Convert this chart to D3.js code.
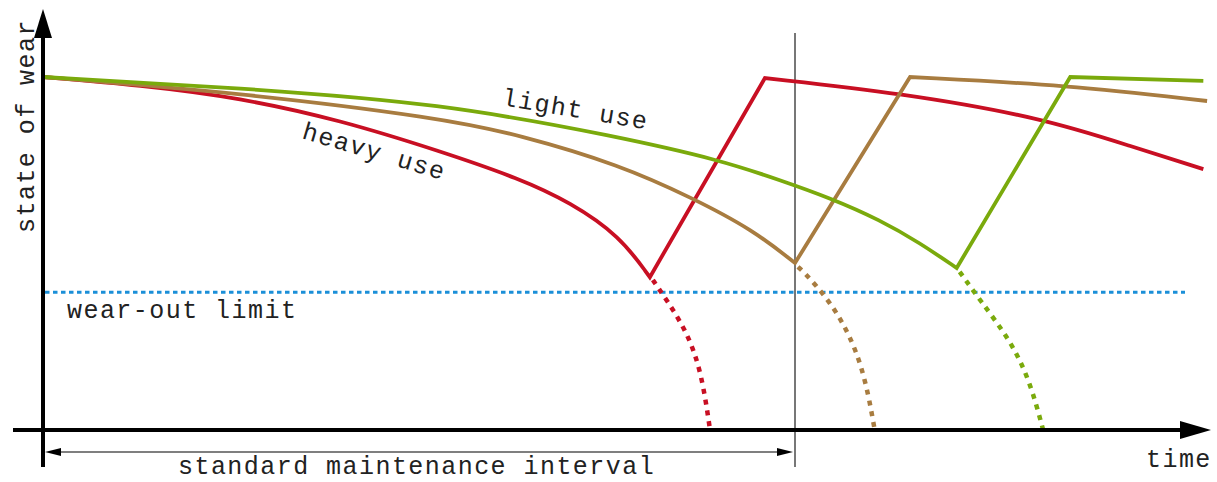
<!DOCTYPE html>
<html>
<head>
<meta charset="utf-8">
<script src="https://cdn.jsdelivr.net/npm/d3@7"></script>
<style>
  body { margin: 0; background: #fff; }
  text { font-family: "Liberation Mono", "Courier New", monospace; font-size: 25px; fill: #222; letter-spacing: 1.45px; }
</style>
</head>
<body>
<script>
// time in arbitrary units (standard maintenance interval = 10), wear as % of new condition
const INTERVAL = 10;
const WEAR_LIMIT = 39;

const heavyWear    = [[0,100],[1.29,97.7],[2.62,94.1],[3.95,87.8],[5.28,79],[6.34,71.2],[7.01,64.5],[7.67,55],[8.07,43.3]];
const heavyRenewed = [[9.6,99.7],[11.4,95.5],[13.3,88.4],[14.49,80.2],[15.43,73.9]];
const heavyFail    = [[8.11,42.5],[8.2,39.7],[8.56,28.3],[8.76,16.1],[8.87,0]];

const mediumWear    = [[0,100],[2.62,95.5],[5.28,88.4],[6.34,83.6],[7.67,75.1],[8.64,65.7],[9.44,56.7],[10,47.3]];
const mediumRenewed = [[11.53,100],[13.62,97.7],[15.48,93.2]];
const mediumFail    = [[10.04,46.2],[10.16,43.9],[10.56,34],[10.9,19],[11.06,0]];

const lightWear    = [[0,100],[2.62,96.9],[5.28,92.6],[7.67,83],[9,76.5],[9.8,70.8],[10.47,65.7],[11.13,59.5],[11.66,53],[12.15,45.9]];
const lightRenewed = [[13.66,100],[15.43,98.9]];
const lightFail    = [[12.19,44.8],[12.46,36.8],[12.86,25.5],[13.12,14.2],[13.3,0]];

const series = [
  { name: 'heavy',  color: '#c80f23', wear: heavyWear,  renewed: heavyRenewed,  fail: heavyFail },
  { name: 'medium', color: '#a87c40', wear: mediumWear, renewed: mediumRenewed, fail: mediumFail },
  { name: 'light',  color: '#7aaa0c', wear: lightWear,  renewed: lightRenewed,  fail: lightFail }
];

const W = 1217, H = 482;
const svg = d3.select('body').append('svg').attr('width', W).attr('height', H);

const x = d3.scaleLinear().domain([0, INTERVAL]).range([43, 795]);
const y = d3.scaleLinear().domain([0, 100]).range([430, 77]);

const curve = d3.line().x(d => x(d[0])).y(d => y(d[1])).curve(d3.curveBasis);

// wear-out limit
svg.append('line')
    .attr('x1', x(0) + 2).attr('x2', 1185)
    .attr('y1', y(WEAR_LIMIT)).attr('y2', y(WEAR_LIMIT))
    .attr('stroke', '#1b8fd8').attr('stroke-width', 3)
    .attr('stroke-dasharray', '4.5,3.5');

// standard interval marker
svg.append('line')
    .attr('x1', x(INTERVAL)).attr('x2', x(INTERVAL))
    .attr('y1', 33).attr('y2', 467)
    .attr('stroke', '#555').attr('stroke-width', 1.6);

// failure continuations (dotted)
svg.selectAll('path.fail')
  .data(series)
  .enter()
    .append('path')
      .attr('class', 'fail')
      .attr('d', d => curve(d.fail))
      .attr('fill', 'none')
      .attr('stroke', d => d.color)
      .attr('stroke-width', 4.5)
      .attr('stroke-dasharray', '5,6');

// wear curve, renewal ramp, second wear curve as one path
svg.selectAll('path.use')
  .data(series)
  .enter()
    .append('path')
      .attr('class', 'use')
      .attr('d', d => curve(d.wear) + curve(d.renewed).replace(/^M/, 'L'))
      .attr('fill', 'none')
      .attr('stroke', d => d.color)
      .attr('stroke-width', 3.8)
      .attr('stroke-linejoin', 'miter');

// axes
svg.append('line').attr('x1', x(0)).attr('x2', x(0)).attr('y1', 467).attr('y2', 30)
    .attr('stroke', '#000').attr('stroke-width', 4);
svg.append('path').attr('d', `M${x(0)},9 L${x(0) - 9},38 L${x(0) + 9},38 Z`).attr('fill', '#000');

svg.append('line').attr('x1', 13).attr('x2', 1185).attr('y1', y(0)).attr('y2', y(0))
    .attr('stroke', '#000').attr('stroke-width', 4);
svg.append('path').attr('d', `M1211,${y(0)} L1180,${y(0) - 9} L1180,${y(0) + 9} Z`).attr('fill', '#000');

// interval arrow
const ay = 452;
svg.append('line').attr('x1', x(0) + 6).attr('x2', x(INTERVAL) - 6).attr('y1', ay).attr('y2', ay)
    .attr('stroke', '#000').attr('stroke-width', 1.2);
svg.append('path').attr('d', `M${x(0) + 2},${ay} L${x(0) + 18},${ay - 4} L${x(0) + 18},${ay + 4} Z`).attr('fill', '#000');
svg.append('path').attr('d', `M${x(INTERVAL) - 2},${ay} L${x(INTERVAL) - 18},${ay - 4} L${x(INTERVAL) - 18},${ay + 4} Z`).attr('fill', '#000');

// labels
svg.append('text').attr('x', 178).attr('y', 474).text('standard maintenance interval');
svg.append('text').attr('x', 1146).attr('y', 467).text('time');
svg.append('text').attr('x', 67).attr('y', 318).text('wear-out limit');
svg.append('text').attr('transform', 'translate(34,233) rotate(-90)').text('state of wear');
svg.append('text').attr('transform', 'translate(501,105) rotate(9.5)').text('light use');
svg.append('text').attr('transform', 'translate(301,138) rotate(16.5)').text('heavy use');
</script>
</body>
</html>
